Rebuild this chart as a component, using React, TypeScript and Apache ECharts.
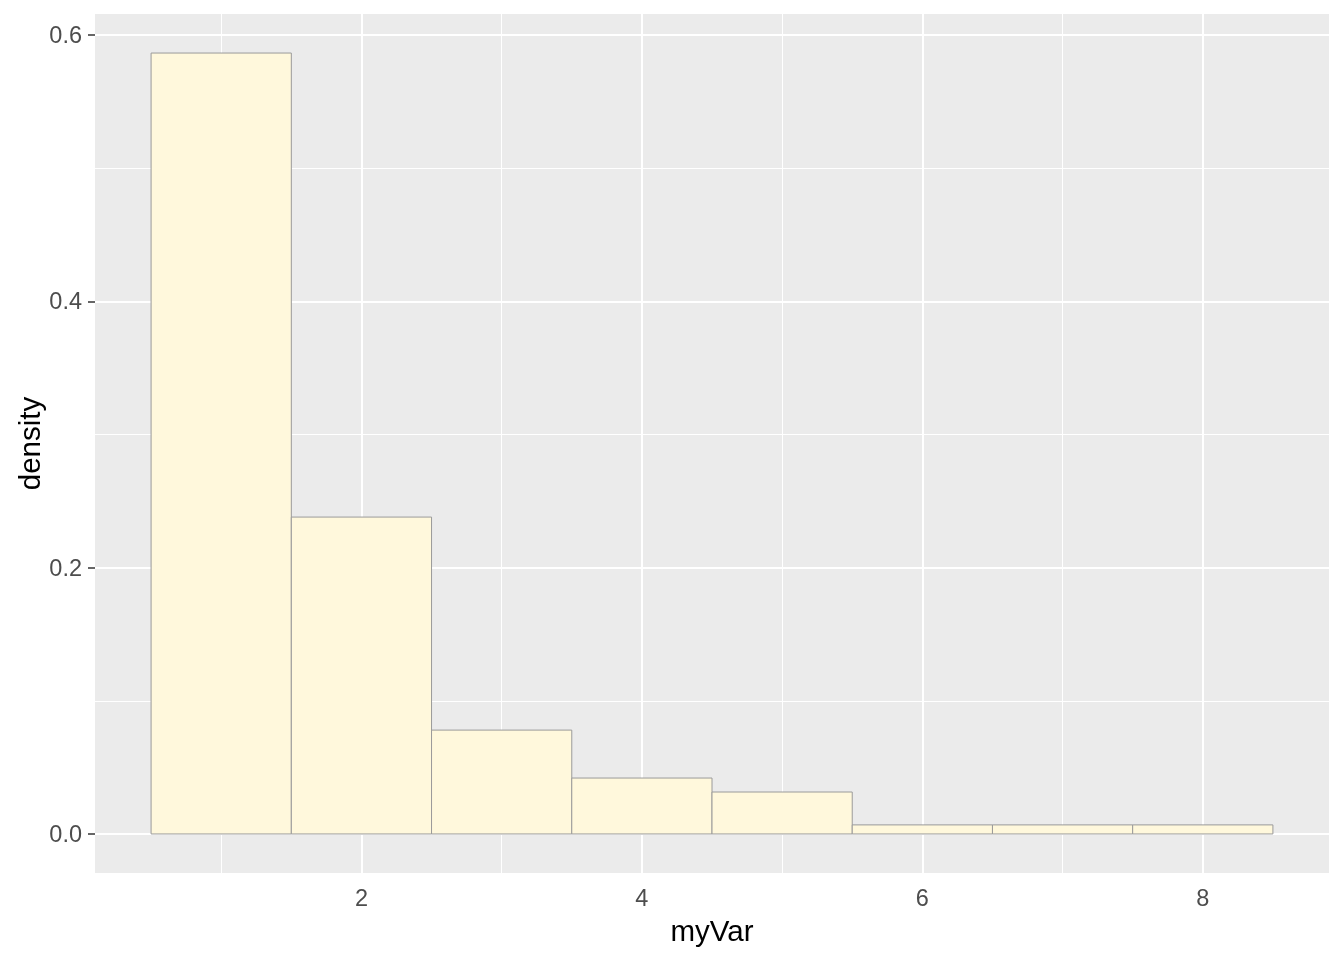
import React, { useEffect, useRef } from "react";
import * as echarts from "echarts";

const binStarts = [0.5, 1.5, 2.5, 3.5, 4.5, 5.5, 6.5, 7.5];
const binWidth = 1;
const densities = [0.5865, 0.238, 0.078, 0.042, 0.0315, 0.0068, 0.0068, 0.0068];
const xBreaks = [2, 4, 6, 8];
const xMinorBreaks = [1, 3, 5, 7];
const yBreaks = [0, 0.2, 0.4, 0.6];
const yMinorBreaks = [0.1, 0.3, 0.5];
const xTitle = "myVar";
const yTitle = "density";

export default function App() {
  const ref = useRef<HTMLDivElement>(null);
  useEffect(() => {
    if (!ref.current) return;
    const chart = echarts.init(ref.current, undefined, { renderer: "svg" });
    const font = "'Liberation Sans', Arial, sans-serif";
    const xMin = binStarts[0];
    const xMax = binStarts[binStarts.length - 1] + binWidth;
    const xPad = (xMax - xMin) * 0.05;
    const yMaxData = Math.max(...densities);
    const yPad = yMaxData * 0.05;
    const barData = binStarts.map((s, i) => [s, s + binWidth, densities[i]]);
    const major = { color: "#ffffff", width: 2, type: "solid" };
    const minor = { color: "#ffffff", width: 1, type: "solid" };
    const gridLines = [
      ...xMinorBreaks.map((v) => ({ xAxis: v, lineStyle: minor })),
      ...yMinorBreaks.map((v) => ({ yAxis: v, lineStyle: minor })),
      ...xBreaks.map((v) => ({ xAxis: v, lineStyle: major })),
      ...yBreaks.map((v) => ({ yAxis: v, lineStyle: major })),
    ];
    chart.setOption({
      animation: false,
      grid: {
        left: 95,
        right: 15,
        top: 14,
        bottom: 87,
        show: true,
        backgroundColor: "#EBEBEB",
        borderWidth: 0,
      },
      xAxis: {
        type: "value",
        min: xMin - xPad,
        max: xMax + xPad,
        axisLine: { show: false },
        splitLine: { show: false },
        axisTick: {
          show: true,
          customValues: xBreaks,
          length: 7,
          lineStyle: { color: "#333333", width: 1.5 },
        },
        axisLabel: {
          customValues: xBreaks,
          color: "#4D4D4D",
          fontSize: 23.5,
          fontFamily: font,
          margin: 13,
        },
        name: xTitle,
        nameLocation: "middle",
        nameGap: 42,
        nameTextStyle: { color: "#000000", fontSize: 29.5, fontFamily: font },
      },
      yAxis: {
        type: "value",
        min: -yPad,
        max: yMaxData + yPad,
        axisLine: { show: false },
        splitLine: { show: false },
        axisTick: {
          show: true,
          customValues: yBreaks,
          length: 7,
          lineStyle: { color: "#333333", width: 1.5 },
        },
        axisLabel: {
          customValues: yBreaks,
          color: "#4D4D4D",
          fontSize: 23.5,
          fontFamily: font,
          margin: 13,
          formatter: (v: number) => v.toFixed(1),
        },
        name: yTitle,
        nameLocation: "middle",
        nameGap: 51,
        nameMoveOverlap: false,
        nameRotate: 90,
        nameTextStyle: { color: "#000000", fontSize: 29.5, fontFamily: font },
      },
      series: [
        {
          type: "line",
          data: [],
          z: 1,
          silent: true,
          markLine: {
            z: 1,
            silent: true,
            symbol: "none",
            label: { show: false },
            emphasis: { disabled: true },
            data: gridLines,
          },
        },
        {
          type: "custom",
          z: 10,
          data: barData,
          encode: { x: [0, 1], y: 2 },
          renderItem: (params: any, api: any) => {
            const p0 = api.coord([api.value(0), api.value(2)]);
            const p1 = api.coord([api.value(1), 0]);
            return {
              type: "rect",
              shape: { x: p0[0], y: p0[1], width: p1[0] - p0[0], height: p1[1] - p0[1] },
              style: { fill: "#FFF8DC", stroke: "#9A9A9A", lineWidth: 1 },
            };
          },
        },
      ],
    });
    return () => chart.dispose();
  }, []);
  return (
    <div
      ref={ref}
      style={{ position: "fixed", left: 0, top: 0, width: 1344, height: 960 }}
    />
  );
}
